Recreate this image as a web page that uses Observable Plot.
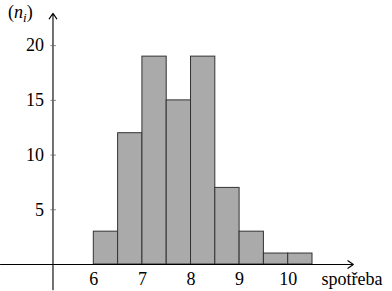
<!DOCTYPE html>
<html><head><meta charset="utf-8">
<script src="https://cdn.jsdelivr.net/npm/d3@7"></script>
<script src="https://cdn.jsdelivr.net/npm/@observablehq/plot@0.6"></script>
<style>body{margin:0;background:#fff;font-family:'Liberation Serif'}svg{display:block}</style>
</head><body><div id="chart"></div>
<script>
const binStarts = [6, 6.5, 7, 7.5, 8, 8.5, 9, 9.5, 10];
const binWidth = 0.5;
const counts = [3, 12, 19, 15, 19, 7, 3, 1, 1];
const xTicks = [6, 7, 8, 9, 10];
const yTicks = [5, 10, 15, 20];
const xLabel = "spotřeba";
const yAxisX = 5.16;
const axesData = [
  {x1: 4.08, y1: 0, x2: 11.34, y2: 0},
  {x1: yAxisX, y1: -2.3, x2: yAxisX, y2: 22.95}
];
const bars = binStarts.map((s, i) => ({x1: s, x2: s + binWidth, y: counts[i]}));
const FF = "Liberation Serif";

const plot = Plot.plot({
  width: 392, height: 291,
  marginLeft: 0, marginRight: 0, marginTop: 0, marginBottom: 0,
  x: {domain: [4.08, 12.146], axis: null},
  y: {domain: [-2.47, 24.13], axis: null},
  style: {fontFamily: FF, fontSize: "18px"},
  marks: [
    Plot.rectY(bars, {x1: "x1", x2: "x2", y1: 0, y2: "y", fill: "#aaaaaa", stroke: "#333", strokeWidth: 1}),
    Plot.arrow(axesData, {x1: "x1", y1: "y1", x2: "x2", y2: "y2", stroke: "#000", strokeWidth: 1.1, headLength: 9, headAngle: 70}),
    Plot.link(yTicks, {x1: yAxisX - 0.05, x2: yAxisX + 0.06, y1: d => d, y2: d => d, stroke: "#666", strokeWidth: 0.8}),
    Plot.text(yTicks, {x: yAxisX, y: d => d, text: d => String(d), textAnchor: "end", dx: -9, fill: "#000", fontFamily: FF, fontSize: 18}),
    Plot.text(xTicks, {x: d => d, y: 0, text: d => String(d), dy: 15, fill: "#000", fontFamily: FF, fontSize: 18}),
    Plot.text([xLabel], {x: 10.685, y: 0, text: d => d, textAnchor: "start", dy: 15, fill: "#000", fontFamily: FF, fontSize: 18})
  ]
});
document.getElementById("chart").append(plot);
const svg = d3.select(plot);
const t = svg.append("text").attr("x", 8).attr("y", 18).attr("text-anchor", "start")
  .style("font-family", FF).style("font-size", "18px").attr("fill", "#000");
t.append("tspan").text("(");
t.append("tspan").style("font-style", "italic").text("n");
t.append("tspan").style("font-style", "italic").style("font-size", "13px").attr("dy", 4).text("i");
t.append("tspan").attr("dy", -4).text(")");
</script></body></html>
